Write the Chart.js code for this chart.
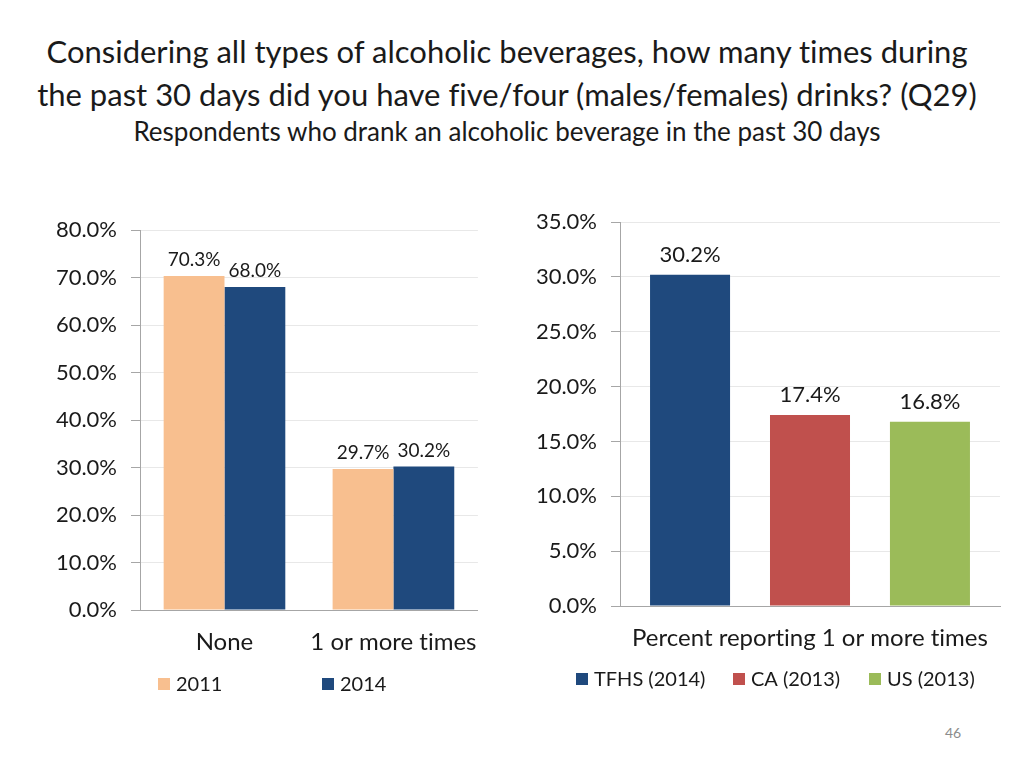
<!DOCTYPE html>
<html>
<head>
<meta charset="utf-8">
<script src="https://cdn.jsdelivr.net/npm/chart.js@4.4.1/dist/chart.umd.min.js"></script>
<style>
  html, body { margin:0; padding:0; background:#fff; }
  body { width:1024px; height:768px; position:relative; overflow:hidden; font-family: Lato, "Open Sans", sans-serif; color:#1a1a1a; font-variant-ligatures: none; }
  .t1 { position:absolute; left:0; width:1014px; text-align:center; font-size:31px; line-height:36px; white-space:nowrap; }
  .t2 { position:absolute; left:0; width:1014px; text-align:center; font-size:26px; line-height:30px; white-space:nowrap; }
  canvas { position:absolute; }
  .pg { position:absolute; left:945px; top:724px; font-size:14px; color:#8c8c8c; }
</style>
</head>
<body>
<div class="t1" style="top:33px;">Considering all types of alcoholic beverages, how many times during</div>
<div class="t1" style="top:76px;">the past 30 days did you have five/four (males/females) drinks? (Q29)</div>
<div class="t2" style="top:116px;">Respondents who drank an alcoholic beverage in the past 30 days</div>
<canvas id="left" width="500" height="540" style="left:0px; top:180px;"></canvas>
<canvas id="right" width="524" height="540" style="left:500px; top:180px;"></canvas>
<div class="pg">46</div>
<script>
// ---- data ----
const leftCategories = ['None', '1 or more times'];
const leftSeriesNames = ['2011', '2014'];
const leftValues2011 = [70.3, 29.7];
const leftValues2014 = [68.0, 30.2];
const leftAxisMax = 80;
const leftAxisStep = 10;

const rightCategories = ['Percent reporting 1 or more times'];
const rightSeriesNames = ['TFHS (2014)', 'CA (2013)', 'US (2013)'];
const rightValues = [30.2, 17.4, 16.8];
const rightAxisMax = 35;
const rightAxisStep = 5;

// ---- styles ----
const PEACH = '#F8BF8F', NAVY = '#1F497D', RED = '#C0504D', GREEN = '#9BBB59';
const TEXT = '#1a1a1a', AXIS = '#a6a6a6', GRID = '#e8e8e8';
const FONT = 'Lato, "Open Sans", sans-serif';

Chart.defaults.font.family = FONT;
Chart.defaults.color = TEXT;

const noLigatures = {
  id: 'noLigatures',
  beforeDraw(chart) {
    const ctx = chart.ctx;
    try { ctx.textRendering = 'optimizeSpeed'; } catch (e) {}
  }
};

const valueLabels = {
  id: 'valueLabels',
  afterDatasetsDraw(chart, args, opts) {
    const ctx = chart.ctx;
    ctx.save();
    ctx.font = opts.size + 'px ' + FONT;
    ctx.fillStyle = TEXT;
    ctx.textAlign = 'center';
    ctx.textBaseline = 'alphabetic';
    chart.data.datasets.forEach((ds, i) => {
      chart.getDatasetMeta(i).data.forEach((el, j) => {
        ctx.fillText(ds.data[j].toFixed(1) + '%', el.x, el.y - opts.offset);
      });
    });
    ctx.restore();
  }
};

const boxLegend = {
  id: 'boxLegend',
  afterDraw(chart, args, opts) {
    const ctx = chart.ctx;
    ctx.save();
    ctx.font = opts.size + 'px ' + FONT;
    ctx.textBaseline = 'middle';
    ctx.textAlign = 'left';
    chart.data.datasets.forEach((ds, i) => {
      const x = opts.xs[i];
      ctx.fillStyle = ds.backgroundColor;
      ctx.fillRect(x, opts.y - 6, 12, 12);
      ctx.fillStyle = TEXT;
      ctx.fillText(ds.label, x + 18, opts.y + 1);
    });
    ctx.restore();
  }
};

function yScale(max, step, width) {
  return {
    min: 0, max: max,
    ticks: { stepSize: step, padding: 14, font: { size: 22 }, color: TEXT,
             callback: v => v.toFixed(1) + '%' },
    grid: { color: GRID, tickColor: AXIS, tickLength: 9, lineWidth: 1 },
    border: { color: AXIS, width: 1 },
    afterFit: s => { s.width = width; }
  };
}
function xScale(height) {
  return {
    ticks: { padding: 18, font: { size: 24 }, color: TEXT,
             maxRotation: 0, minRotation: 0, autoSkip: false },
    grid: { color: 'rgba(0,0,0,0)', drawTicks: false },
    border: { color: AXIS, width: 1 },
    afterFit: s => { s.height = height; }
  };
}

new Chart(document.getElementById('left'), {
  type: 'bar',
  data: {
    labels: leftCategories,
    datasets: [
      { label: leftSeriesNames[0], data: leftValues2011, backgroundColor: PEACH },
      { label: leftSeriesNames[1], data: leftValues2014, backgroundColor: NAVY }
    ]
  },
  options: {
    responsive: false, animation: false, devicePixelRatio: 1,
    layout: { padding: { left: 0, right: 22, top: 50, bottom: 0 } },
    datasets: { bar: { categoryPercentage: 0.72, barPercentage: 1.0 } },
    scales: { x: xScale(110), y: yScale(leftAxisMax, leftAxisStep, 140) },
    plugins: {
      legend: { display: false }, tooltip: { enabled: false },
      valueLabels: { size: 19, offset: 10 },
      boxLegend: { xs: [158, 322], y: 504, size: 20 }
    }
  },
  plugins: [noLigatures, valueLabels, boxLegend]
});

new Chart(document.getElementById('right'), {
  type: 'bar',
  data: {
    labels: rightCategories,
    datasets: rightSeriesNames.map((n, i) => ({
      label: n, data: [rightValues[i]], backgroundColor: [NAVY, RED, GREEN][i]
    }))
  },
  options: {
    responsive: false, animation: false, devicePixelRatio: 1,
    layout: { padding: { left: 0, right: 24, top: 42, bottom: 0 } },
    datasets: { bar: { categoryPercentage: 0.947, barPercentage: 0.667 } },
    scales: { x: xScale(114), y: yScale(rightAxisMax, rightAxisStep, 120) },
    plugins: {
      legend: { display: false }, tooltip: { enabled: false },
      valueLabels: { size: 22, offset: 13 },
      boxLegend: { xs: [76, 233, 369], y: 499, size: 20 }
    }
  },
  plugins: [noLigatures, valueLabels, boxLegend]
});
</script>
</body>
</html>
